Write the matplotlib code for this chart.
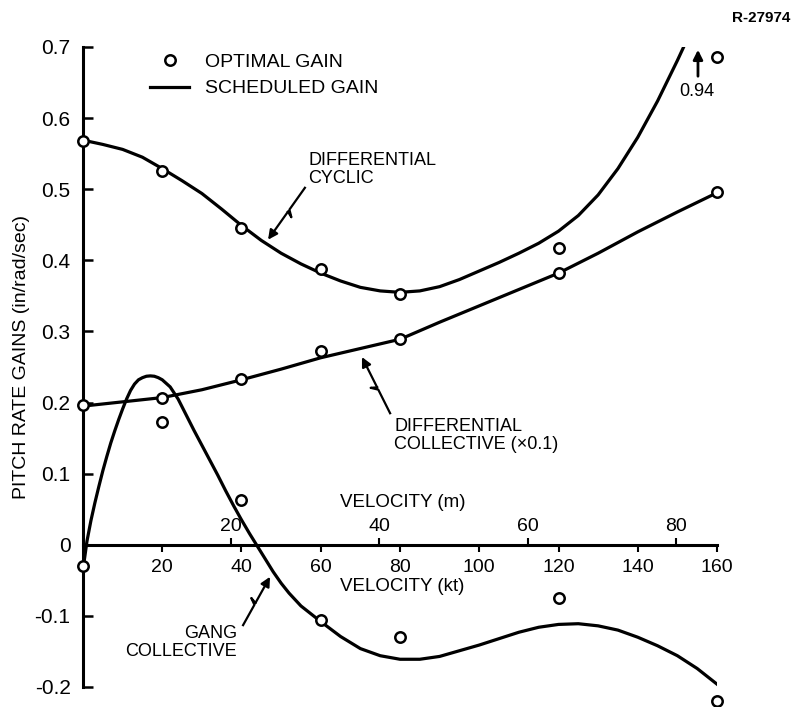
import numpy as np
import matplotlib.pyplot as plt
from matplotlib.lines import Line2D

plt.rcParams['font.family'] = ['Liberation Sans', 'DejaVu Sans']

# optimal gain points (velocity in kt)
vel_opt = [0, 20, 40, 60, 80, 120, 160]
cyclic_opt = [0.568, 0.525, 0.445, 0.388, 0.353, 0.418, 0.686]  # last one is off scale (0.94)
collective_opt = [0.196, 0.207, 0.233, 0.272, 0.289, 0.382, 0.496]
gang_opt = [-0.03, 0.172, 0.063, -0.106, -0.13, -0.075, -0.22]

# scheduled gain curves
cyc_v = [0, 5, 10, 15, 20, 25, 30, 35, 40, 45, 50, 55, 60, 65, 70, 75, 80, 85, 90, 95,
         100, 105, 110, 115, 120, 125, 130, 135, 140, 145, 150, 152]
cyc_g = [0.569, 0.563, 0.556, 0.545, 0.529, 0.512, 0.494, 0.472, 0.449, 0.428, 0.41, 0.395,
         0.382, 0.371, 0.362, 0.357, 0.355, 0.357, 0.363, 0.373, 0.385, 0.397, 0.41, 0.424,
         0.441, 0.463, 0.492, 0.529, 0.573, 0.624, 0.681, 0.705]
col_v = [0, 10, 20, 30, 40, 50, 60, 70, 80, 90, 100, 110, 120, 130, 140, 150, 160]
col_g = [0.195, 0.201, 0.207, 0.218, 0.232, 0.247, 0.263, 0.276, 0.289, 0.313, 0.336,
         0.359, 0.382, 0.41, 0.44, 0.468, 0.495]
gang_v = [0, 1, 2, 3, 4, 5, 6, 7, 8, 9, 10, 11, 12, 13, 14, 15, 16, 17, 18, 19, 20, 22, 24,
          26, 28, 30, 32, 34, 36, 38, 40, 42, 44, 46, 48, 50, 52, 55, 60, 65, 70, 75, 80, 85,
          90, 95, 100, 105, 110, 115, 120, 125, 130, 135, 140, 145, 150, 155, 160]
gang_g = [-0.035, 0.005, 0.034, 0.059, 0.082, 0.104, 0.124, 0.143, 0.16, 0.176, 0.191, 0.205,
          0.217, 0.226, 0.232, 0.235, 0.237, 0.2375, 0.237, 0.235, 0.232, 0.222, 0.205,
          0.183, 0.161, 0.14, 0.119, 0.098, 0.076, 0.055, 0.035, 0.016, -0.002, -0.02, -0.038,
          -0.054, -0.068, -0.086, -0.108, -0.129, -0.146, -0.156, -0.161, -0.161, -0.157,
          -0.149, -0.141, -0.132, -0.123, -0.116, -0.112, -0.111, -0.114, -0.12, -0.13,
          -0.142, -0.156, -0.174, -0.196]

kt_ticks = [20, 40, 60, 80, 100, 120, 140, 160]
m_ticks = [20, 40, 60, 80]
y_ticks = [-0.2, -0.1, 0, 0.1, 0.2, 0.3, 0.4, 0.5, 0.6, 0.7]
y_labels = ['-0.2', '-0.1', '0', '0.1', '0.2', '0.3', '0.4', '0.5', '0.6', '0.7']

fig = plt.figure(figsize=(8.02, 7.07), dpi=100)
ax = fig.add_axes([83/802, 1 - 687/707, 634/802, 640/707])
ax.set_xlim(0, 160)
ax.set_ylim(-0.2, 0.7)

lw = 2.3
ax.plot(cyc_v, cyc_g, color='black', lw=lw, solid_joinstyle='round')
ax.plot(col_v, col_g, color='black', lw=lw, solid_joinstyle='round')
ax.plot(gang_v, gang_g, color='black', lw=lw, solid_joinstyle='round')
mk = dict(ls='none', marker='o', ms=7.5, mfc='white', mec='black', mew=1.8, clip_on=False, zorder=5)
ax.plot(vel_opt, cyclic_opt, **mk)
ax.plot(vel_opt, collective_opt, **mk)
ax.plot(vel_opt, gang_opt, **mk)

for s in ['top', 'right']:
    ax.spines[s].set_visible(False)
ax.spines['bottom'].set_position(('data', 0))
ax.spines['left'].set_linewidth(2.2)
ax.spines['bottom'].set_linewidth(2.2)

ax.set_yticks(y_ticks)
ax.set_yticklabels(y_labels)
ax.set_xticks(kt_ticks)
ax.tick_params(axis='y', direction='in', length=7, width=1.8, pad=9, labelsize=15)
ax.tick_params(axis='x', direction='out', length=5, width=1.5, pad=5, labelsize=14)

# metres-per-second scale drawn on the same zero line
sec = ax.secondary_xaxis(2/9, functions=(lambda v: v / 1.87, lambda v: v * 1.87))
sec.set_alignment('top')
sec.set_xticks(m_ticks)
sec.tick_params(direction='out', length=5, width=1.5, pad=2, labelsize=14)
for s in sec.spines.values():
    s.set_visible(False)

ax.set_ylabel('PITCH RATE GAINS (in/rad/sec)', fontsize=14)
ax.yaxis.set_label_coords(-0.083, 0.516)

fs = 13.5
ax.text(64.9, 0.059, 'VELOCITY (m)', fontsize=fs, va='center')
ax.text(64.9, -0.058, 'VELOCITY (kt)', fontsize=fs, va='center')
ax.text(56.8, 0.528, 'DIFFERENTIAL\nCYCLIC', fontsize=13, va='center', linespacing=1.05)
ax.text(78.5, 0.154, 'DIFFERENTIAL\nCOLLECTIVE (×0.1)', fontsize=13, va='center', linespacing=1.05)
ax.text(38.9, -0.137, 'GANG\nCOLLECTIVE', fontsize=13, va='center', ha='right',
        multialignment='right', linespacing=1.05)
ax.text(154.9, 0.637, '0.94', fontsize=13, ha='center', va='center')
fig.text(0.985, 0.975, 'R-27974', fontsize=11, fontweight='bold', ha='right', va='center')

ax.annotate('', xy=(155.2, 0.70), xytext=(155.2, 0.655),
            arrowprops=dict(arrowstyle='-|>', lw=2, color='black', mutation_scale=14))


def bolt(start, end):
    # pointer line with a small zig-zag, arrow head at the end
    p0 = ax.transData.transform(start)
    p1 = ax.transData.transform(end)
    d = p1 - p0
    u = d / np.hypot(*d)
    n = np.array([-u[1], u[0]])
    a = p0 + 0.42 * d
    b = a + 0.08 * d + 6 * n
    c = a + 0.04 * d
    pts = ax.transData.inverted().transform(np.array([p0, a, b, c]))
    ax.plot(pts[:, 0], pts[:, 1], color='black', lw=1.6)
    ax.annotate('', xy=end, xytext=tuple(pts[-1]),
                arrowprops=dict(arrowstyle='-|>', lw=1.6, color='black', mutation_scale=14,
                                shrinkA=0, shrinkB=0))


bolt((56.0, 0.502), (46.7, 0.429))
bolt((77.5, 0.185), (70.4, 0.264))
bolt((40.4, -0.113), (47.2, -0.045))

h1 = Line2D([], [], ls='none', marker='o', ms=7.5, mfc='white', mec='black', mew=1.8)
h2 = Line2D([], [], color='black', lw=lw)
ax.legend([h1, h2], ['OPTIMAL GAIN', 'SCHEDULED GAIN'], loc='upper left',
          bbox_to_anchor=(0.106, 0.99), frameon=False, handlelength=2.0,
          handletextpad=0.8, labelspacing=0.45, fontsize=14, borderpad=0, borderaxespad=0)

fig.savefig('out.png', dpi=100)
